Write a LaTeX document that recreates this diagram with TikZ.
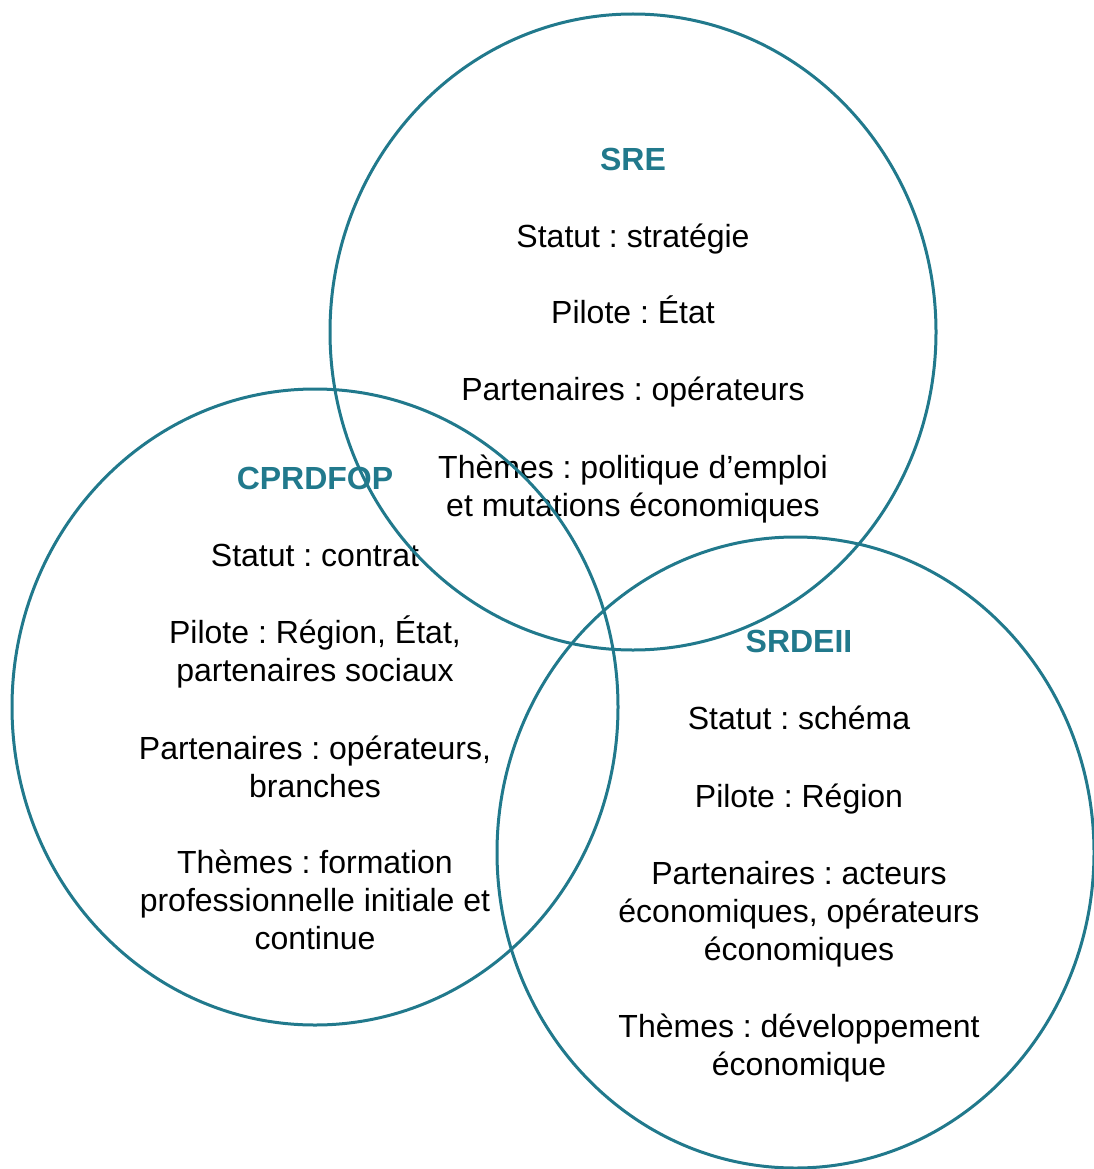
\documentclass[tikz,border=0pt]{standalone}
\usepackage{fontspec}
\setmainfont{Liberation Sans}
\usetikzlibrary{positioning}
\definecolor{sreteal}{RGB}{33,121,140}
\frenchspacing

\begin{document}
\begin{tikzpicture}[x=1pt,y=-1pt,
  ring/.style={draw=sreteal,line width=3pt},
  titre/.style={anchor=base,inner sep=0pt,text=sreteal,font=\fontsize{32}{38}\selectfont\bfseries},
  texte/.style={anchor=base,inner sep=0pt,align=center,font=\fontsize{32}{38}\selectfont}]
\useasboundingbox (0,0) rectangle (1094,1169);

% SRE (base = last line)
\node (sre)  [titre] at (633,171) {SRE};
\node (sre1) [texte] at (633,247) {Statut : stratégie};
\node (sre2) [texte] at (633,323) {Pilote : État};
\node (sre3) [texte] at (633,400) {Partenaires : opérateurs};
\node (sre4) [texte] at (633,516) {Thèmes : politique d’emploi\\et mutations économiques};

% CPRDFOP
\node (cpr)  [titre] at (315,489) {CPRDFOP};
\node (cpr1) [texte] at (315,566) {Statut : contrat};
\node (cpr2) [texte] at (315,681) {Pilote : Région, État,\\partenaires sociaux};
\node (cpr3) [texte] at (315,797) {Partenaires : opérateurs,\\branches};
\node (cpr4) [texte] at (315,949) {Thèmes : formation\\professionnelle initiale et\\continue};

% SRDEII
\node (srd)  [titre] at (799,652) {SRDEII};
\node (srd1) [texte] at (799,729) {Statut : schéma};
\node (srd2) [texte] at (799,807) {Pilote : Région};
\node (srd3) [texte] at (799,960) {Partenaires : acteurs\\économiques, opérateurs\\économiques};
\node (srd4) [texte] at (799,1075) {Thèmes : développement\\économique};

\draw[ring] (633,332) ellipse [x radius=303,y radius=318];
\draw[ring] (315,707) ellipse [x radius=303,y radius=318];
\draw[ring] (795.5,852.5) ellipse [x radius=298.5,y radius=315.5];
\end{tikzpicture}
\end{document}
